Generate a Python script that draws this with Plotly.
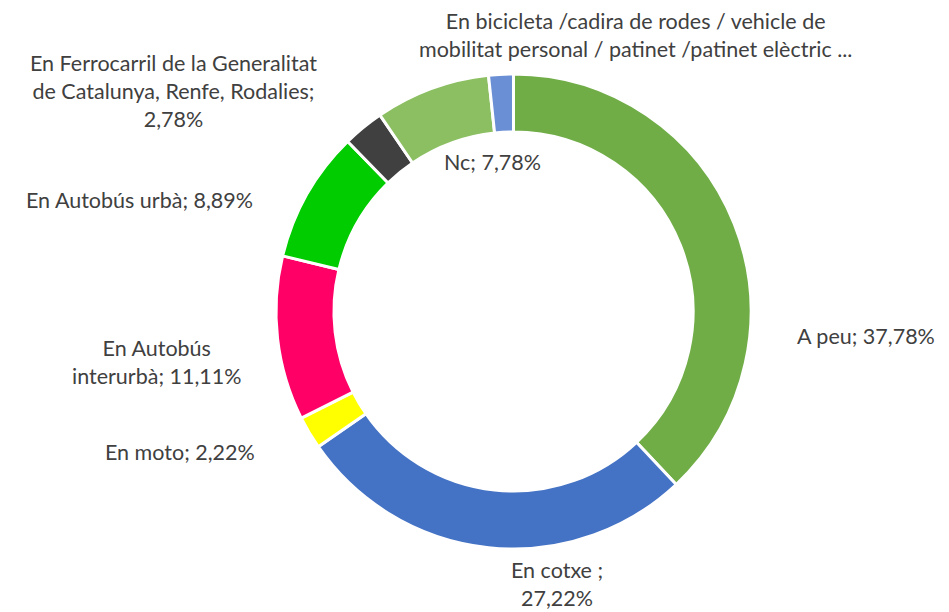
import plotly.graph_objects as go

categories = ["A peu", "En cotxe ", "En moto", "En Autobús interurbà", "En Autobús urbà",
              "En Ferrocarril de la Generalitat de Catalunya, Renfe, Rodalies", "Nc",
              "En bicicleta /cadira de rodes / vehicle de mobilitat personal / patinet /patinet elèctric"]
values = [37.78, 27.22, 2.22, 11.11, 8.89, 2.78, 7.78, 1.67]
colors = ["#70AD47", "#4472C4", "#FFFF00", "#FF0066", "#00CC00", "#404040", "#8BBF62", "#6A8FD5"]

label_texts = [
    "A peu; 37,78%",
    "En cotxe ;<br>27,22%",
    "En moto; 2,22%",
    "En Autobús<br>interurbà; 11,11%",
    "En Autobús urbà; 8,89%",
    "En Ferrocarril de la Generalitat<br>de Catalunya, Renfe, Rodalies;<br>2,78%",
    "Nc; 7,78%",
    "En bicicleta /cadira de rodes / vehicle de<br>mobilitat personal / patinet /patinet elèctric ...",
]
# label centre positions in pixels (x, y from top)
label_pos = [(866, 336), (557, 584), (180, 452), (157, 362), (139, 200),
             (173, 91), (492, 162), (635, 35)]

W, H = 949, 612
cx, cy, r = 513.5, 311.5, 237.5

fig = go.Figure(go.Pie(
    labels=categories, values=values, sort=False, direction="clockwise", rotation=0,
    hole=0.756, textinfo="none", hoverinfo="label+percent",
    marker=dict(colors=colors, line=dict(color="white", width=3)),
    domain=dict(x=[(cx - r) / W, (cx + r) / W], y=[1 - (cy + r) / H, 1 - (cy - r) / H]),
    showlegend=False,
))

for t, (px, py) in zip(label_texts, label_pos):
    fig.add_annotation(text=t, x=px / W, y=1 - py / H, xref="paper", yref="paper",
                       showarrow=False, xanchor="center", yanchor="middle", align="center",
                       font=dict(family="Lato, Open Sans, sans-serif", size=21.5, color="#404040"))

fig.update_layout(width=W, height=H, margin=dict(l=0, r=0, t=0, b=0),
                  paper_bgcolor="white", plot_bgcolor="white")
fig.write_html("out.html", config={"displayModeBar": False},
               post_script="document.body.style.margin='0';")
